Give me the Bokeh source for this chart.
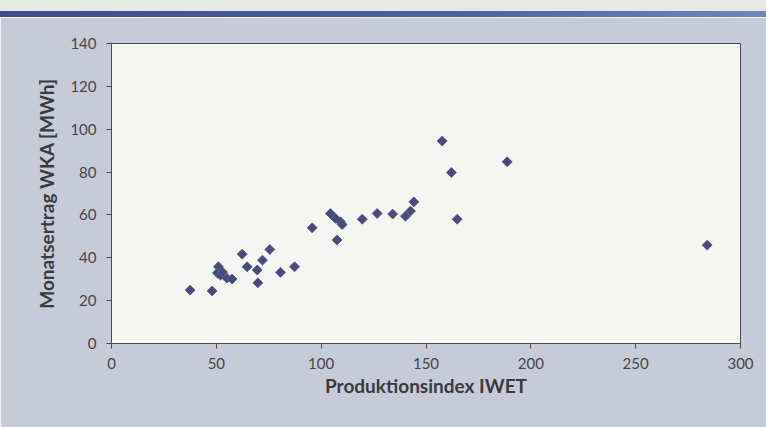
import numpy as np
from bokeh.plotting import figure
from bokeh.layouts import column
from bokeh.models import Div, FixedTicker, Range1d, ColumnDataSource
from bokeh.embed import file_html
from bokeh.resources import INLINE

# Data (Produktionsindex IWET vs. Monatsertrag WKA)
produktionsindex = [37.5, 48, 51, 50.5, 52, 53, 55, 57.5, 62.3, 64.7, 69.5, 72, 75.5,
                    69.8, 80.6, 87.3, 95.7, 104.4, 106.8, 109.2, 110, 107.6, 119.6,
                    126.7, 134.1, 140.2, 142.6, 144.2, 157.7, 162.1, 164.9, 188.7, 284.1]
monatsertrag = [24.9, 24.5, 35.8, 32.9, 31.9, 33.3, 30.5, 30.1, 41.7, 35.8, 34.3, 38.9,
                43.9, 28.3, 33.2, 35.8, 54.0, 60.7, 58.4, 56.8, 55.5, 48.3, 58.0,
                60.7, 60.4, 59.4, 61.8, 66.1, 94.5, 79.8, 58.0, 84.8, 45.9]

x_ticks = [0, 50, 100, 150, 200, 250, 300]
y_ticks = [0, 20, 40, 60, 80, 100, 120, 140]

TEXT = "#3a3a3e"
FONT = "Lato"

top = Div(
    text=('<div style="width:766px;height:11px;background:#e7e9e4"></div>'
          '<div style="width:766px;height:6px;background:linear-gradient(to right,#3e4c8c,#4f5fa2 60%,#7484bd)"></div>'),
    width=766, height=17, margin=0,
)

p = figure(width=766, height=410, output_backend="svg", toolbar_location=None,
           x_range=Range1d(0, 300), y_range=Range1d(0, 140),
           min_border_left=111, min_border_right=26, min_border_top=26, min_border_bottom=84,
           border_fill_color="#c7cbd8", background_fill_color="#f5f5f1",
           outline_line_color="#4a4a4a", outline_line_width=1, margin=0)

src = ColumnDataSource(dict(x=produktionsindex, y=monatsertrag))
p.scatter("x", "y", source=src, marker="square", angle=np.pi / 4, size=7,
          fill_color="#474b7c", line_color="#5a5e8c", line_width=1)

p.xgrid.visible = False
p.ygrid.visible = False

for ax in (p.xaxis[0], p.yaxis[0]):
    ax.axis_line_color = "#4a4a4a"
    ax.major_tick_line_color = "#4a4a4a"
    ax.major_tick_out = 5
    ax.major_tick_in = 0
    ax.minor_tick_line_color = None
    ax.major_label_text_font = FONT
    ax.major_label_text_font_size = "15px"
    ax.major_label_text_color = "#45454a"
    ax.axis_label_text_font = FONT
    ax.axis_label_text_font_style = "bold"
    ax.axis_label_text_font_size = "19px"
    ax.axis_label_text_color = TEXT

p.xaxis.ticker = FixedTicker(ticks=x_ticks)
p.yaxis.ticker = FixedTicker(ticks=y_ticks)
p.xaxis.axis_label = "Produktionsindex IWET"
p.yaxis.axis_label = "Monatsertrag WKA [MWh]"
p.xaxis.major_label_standoff = 9
p.yaxis.major_label_standoff = 10
p.xaxis.axis_label_standoff = 2
p.yaxis.axis_label_standoff = 9

layout = column(top, p, spacing=0, margin=0)
open("out.html", "w").write(file_html(layout, INLINE))
